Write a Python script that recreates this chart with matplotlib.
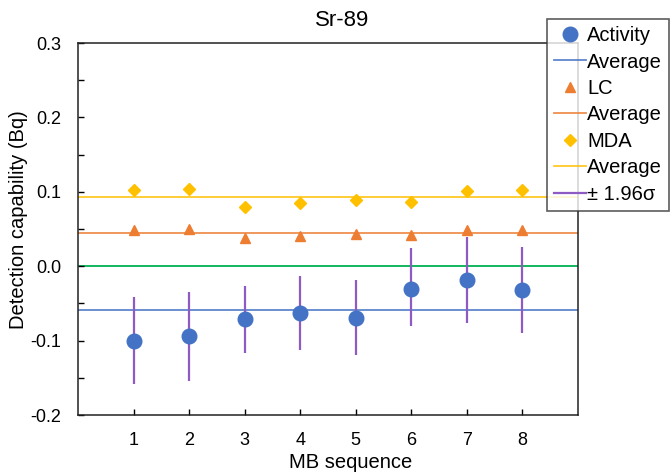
import matplotlib
matplotlib.use("Agg")
import matplotlib.pyplot as plt
from matplotlib.ticker import FixedLocator, FixedFormatter

plt.rcParams['font.family'] = ['Liberation Sans', 'DejaVu Sans']

seq = [1, 2, 3, 4, 5, 6, 7, 8]
activity = [-0.100, -0.094, -0.071, -0.063, -0.069, -0.031, -0.018, -0.032]
err_top = [-0.042, -0.035, -0.027, -0.013, -0.019, 0.024, 0.039, 0.026]
err_bot = [-0.158, -0.154, -0.116, -0.112, -0.120, -0.081, -0.076, -0.090]
lc = [0.049, 0.050, 0.038, 0.040, 0.043, 0.042, 0.048, 0.049]
mda = [0.103, 0.104, 0.080, 0.085, 0.089, 0.086, 0.101, 0.103]
act_avg = -0.059
lc_avg = 0.045
mda_avg = 0.093
yticks = [-0.2, -0.1, 0.0, 0.1, 0.2, 0.3]
yticklabels = ['-0.2', '-0.1', '0.0', '0.1', '0.2', '0.3']
yminor = [-0.15, -0.05, 0.05, 0.15, 0.25]

c_blue = '#4472C4'
c_orange = '#ED7D31'
c_yellow = '#FFC000'
c_green = '#00B050'
c_purple = '#8E5BC4'

fig = plt.figure(figsize=(6.71, 4.72), dpi=100)
ax = fig.add_axes([78 / 671, 1 - 415 / 472, 500 / 671, 372 / 472])

ax.axhline(0, color=c_green, lw=1.3, zorder=1)
ax.vlines(seq, err_bot, err_top, color=c_purple, lw=1.6, zorder=2)
h_act, = ax.plot(seq, activity, 'o', color=c_blue, ms=10.5, zorder=4, label='Activity')
h_acta = ax.axhline(act_avg, color=c_blue, lw=1.3, alpha=0.85, zorder=1, label='Average')
h_lc, = ax.plot(seq, lc, '^', color=c_orange, ms=7.5, zorder=4, label='LC')
h_lca = ax.axhline(lc_avg, color=c_orange, lw=1.3, alpha=0.85, zorder=1, label='Average')
h_mda, = ax.plot(seq, mda, 'D', color=c_yellow, ms=6, zorder=4, label='MDA')
h_mdaa = ax.axhline(mda_avg, color=c_yellow, lw=1.3, alpha=0.85, zorder=1, label='Average')
h_err, = ax.plot([], [], color=c_purple, lw=1.6, label='± 1.96σ')

ax.set_xlim(0, 9)
ax.set_ylim(-0.2, 0.3)
ax.set_xticks(seq)
ax.yaxis.set_major_locator(FixedLocator(yticks))
ax.yaxis.set_major_formatter(FixedFormatter(yticklabels))
ax.yaxis.set_minor_locator(FixedLocator(yminor))
ax.tick_params(axis='both', direction='in', labelsize=13, length=4, width=1, pad=12)
ax.tick_params(axis='y', which='minor', direction='in', length=4, width=1)
ax.tick_params(axis='x', which='minor', bottom=False)
for s in ax.spines.values():
    s.set_linewidth(1.1)
    s.set_color('#222222')

fig.text(19 / 671, 1 - 220 / 472, 'Detection capability (Bq)', ha='center', va='center',
         rotation=90, fontsize=14.5)
fig.text(351 / 671, 1 - 462 / 472, 'MB sequence', ha='center', va='center', fontsize=14.5)
fig.text(342 / 671, 1 - 20 / 472, 'Sr-89', ha='center', va='center', fontsize=16)

leg = fig.legend(handles=[h_act, h_acta, h_lc, h_lca, h_mda, h_mdaa, h_err],
                 loc='upper left', bbox_to_anchor=(547 / 671, 1 - 19 / 472),
                 fontsize=14.5, frameon=True, fancybox=False, borderpad=0.35,
                 labelspacing=0.37, handlelength=1.6, handletextpad=0.05,
                 borderaxespad=0)
leg.get_frame().set_edgecolor('#333333')
leg.get_frame().set_linewidth(1.2)

fig.savefig('out.png', dpi=100)
